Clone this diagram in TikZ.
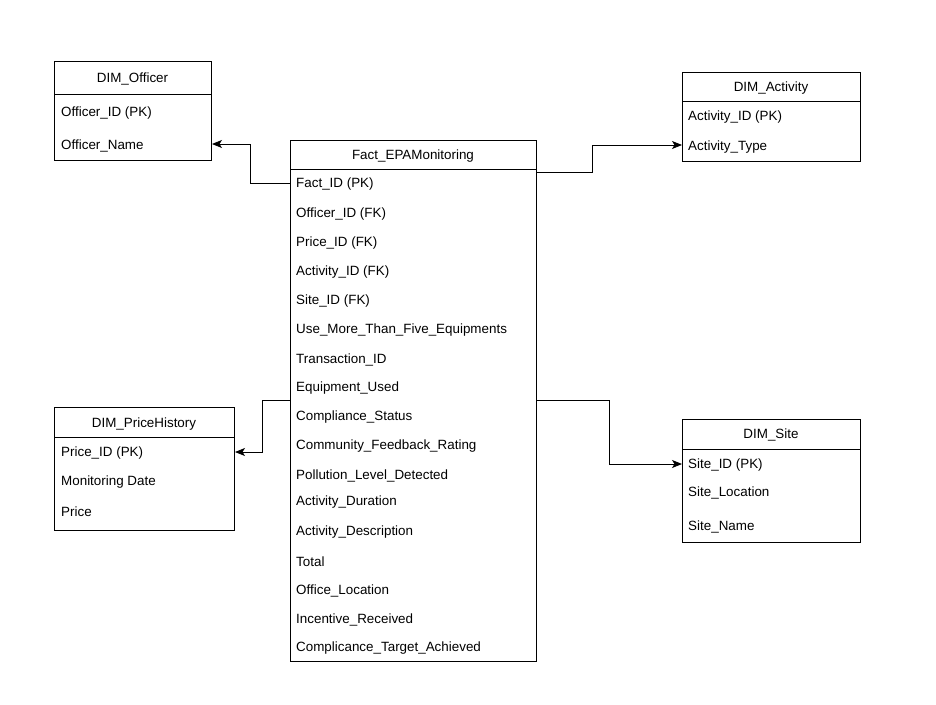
\documentclass[tikz,border=0pt]{standalone}
\usepackage{fontspec}
\setmainfont{Liberation Sans}
\usetikzlibrary{arrows.meta}
\begin{document}
\begin{tikzpicture}[x=1pt,y=-1pt,
  tbl/.style={draw=black,line width=1pt,anchor=north west,inner sep=0pt},
  ttl/.style={font=\fontsize{13.4}{15}\selectfont,anchor=center,inner sep=1pt,yshift=-1pt},
  row/.style={font=\fontsize{13.4}{15}\selectfont,anchor=west,inner sep=0pt,yshift=-1.5pt},
  sep/.style={line width=1pt},
  arr/.style={line width=0.9pt,-{Stealth[length=10pt,width=8pt,inset=2.5pt]}}]
\useasboundingbox[fill=white] (0,0) rectangle (936,704);

% DIM_Officer
\node[tbl,minimum width=157pt,minimum height=99pt] (off) at (54,61) {};
\draw[sep] (54,94) -- (211,94);
\node[ttl] (offt) at (132.5,78) {DIM\_Officer};
\node[row] (or1) at (61,112) {Officer\_ID (PK)};
\node[row] (or2) at (61,144) {Officer\_Name};

% DIM_Activity
\node[tbl,minimum width=178pt,minimum height=89pt] (act) at (682,72) {};
\draw[sep] (682,101) -- (860,101);
\node[ttl] (actt) at (771,87) {DIM\_Activity};
\node[row] (ar1) at (688,116) {Activity\_ID (PK)};
\node[row] (ar2) at (688,146) {Activity\_Type};

% DIM_PriceHistory
\node[tbl,minimum width=180pt,minimum height=123pt] (ph) at (54,407) {};
\draw[sep] (54,437) -- (234,437);
\node[ttl] (pht) at (144,423) {DIM\_PriceHistory};
\node[row] (pr1) at (61,452) {Price\_ID (PK)};
\node[row] (pr2) at (61,481) {Monitoring Date};
\node[row] (pr3) at (61,510) {Price};

% DIM_Site
\node[tbl,minimum width=178pt,minimum height=123pt] (site) at (682,419) {};
\draw[sep] (682,449) -- (860,449);
\node[ttl] (sitet) at (771,434) {DIM\_Site};
\node[row] (sr1) at (688,464) {Site\_ID (PK)};
\node[row] (sr2) at (688,491) {Site\_Location};
\node[row] (sr3) at (688,525) {Site\_Name};

% Fact
\node[tbl,minimum width=246pt,minimum height=521pt] (fact) at (290,140) {};
\draw[sep] (290,169) -- (536,169);
\node[ttl] (factt) at (413,155) {Fact\_EPAMonitoring};
\node[row] (f1) at (296,183) {Fact\_ID (PK)};
\node[row] (f2) at (296,213) {Officer\_ID (FK)};
\node[row] (f3) at (296,242) {Price\_ID (FK)};
\node[row] (f4) at (296,271) {Activity\_ID (FK)};
\node[row] (f5) at (296,300) {Site\_ID (FK)};
\node[row] (f6) at (296,329) {Use\_More\_Than\_Five\_Equipments};
\node[row] (f7) at (296,358) {Transaction\_ID};
\node[row] (f8) at (296,387) {Equipment\_Used};
\node[row] (f9) at (296,416) {Compliance\_Status};
\node[row] (f10) at (296,445) {Community\_Feedback\_Rating};
\node[row] (f11) at (296,474) {Pollution\_Level\_Detected};
\node[row] (f12) at (296,501) {Activity\_Duration};
\node[row] (f13) at (296,531) {Activity\_Description};
\node[row] (f14) at (296,560) {Total};
\node[row] (f15) at (296,589) {Office\_Location};
\node[row] (f16) at (296,618) {Incentive\_Received};
\node[row] (f17) at (296,647) {Complicance\_Target\_Achieved};

% connectors
\coordinate (c1) at (290,183);
\coordinate (c2) at (536,172);
\coordinate (c3) at (290,400);
\coordinate (c4) at (536,400);
\draw[arr] (c1) -- (250,183) |- (off.east |- 0,144);
\draw[arr] (c2) -- (592,172) |- (act.west |- 0,145);
\draw[arr] (c3) -- (262,400) |- (ph.east |- 0,452);
\draw[arr] (c4) -- (609,400) |- (site.west |- 0,464);
\end{tikzpicture}
\end{document}
